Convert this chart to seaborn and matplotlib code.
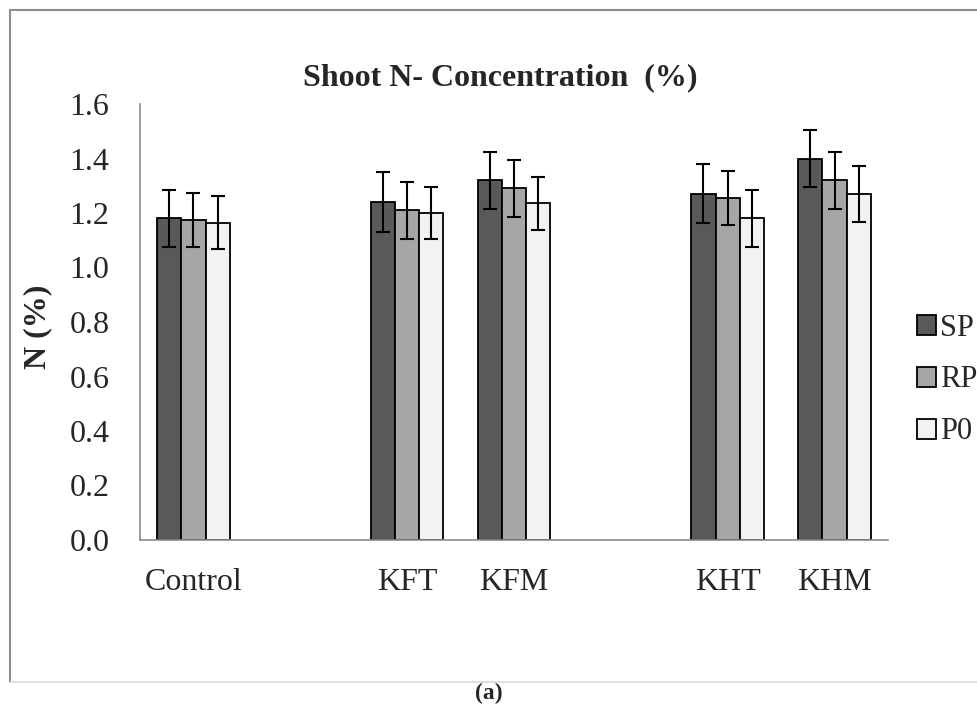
import matplotlib
matplotlib.use("Agg")
import matplotlib.pyplot as plt
from matplotlib.lines import Line2D
import seaborn as sns
import pandas as pd

# ---- data ----
categories = ["Control", "KFT", "KFM", "KHT", "KHM"]
slot_order = ["Control", " ", "KFT", "KFM", "  ", "KHT", "KHM"]
series = ["SP", "RP", "P0"]
sp_vals = [1.18, 1.24, 1.32, 1.27, 1.40]
rp_vals = [1.175, 1.21, 1.29, 1.255, 1.32]
p0_vals = [1.165, 1.20, 1.235, 1.18, 1.27]
sp_err = [0.105, 0.11, 0.105, 0.108, 0.103]
rp_err = [0.10, 0.105, 0.103, 0.10, 0.104]
p0_err = [0.098, 0.096, 0.096, 0.103, 0.102]
yticks = [0.0, 0.2, 0.4, 0.6, 0.8, 1.0, 1.2, 1.4, 1.6]

colors = {"SP": "#595959", "RP": "#a6a6a6", "P0": "#f2f2f2"}

rows = []
errs = {}
for s, vals, ers in [("SP", sp_vals, sp_err), ("RP", rp_vals, rp_err), ("P0", p0_vals, p0_err)]:
    for c, v, e in zip(categories, vals, ers):
        rows.append({"Treatment": c, "Series": s, "N": v})
        errs[(c, s)] = e
df = pd.DataFrame(rows)

sns.set_theme(style="white")
plt.rcParams["font.family"] = ["Liberation Serif", "DejaVu Serif"]

fig = plt.figure(figsize=(9.78, 7.06), dpi=100)
ax = fig.add_axes([140/978, 1-540/706, (888-140)/978, (540-104)/706])

sns.barplot(data=df, x="Treatment", y="N", hue="Series", order=slot_order,
            hue_order=series, palette=colors, width=0.68, edgecolor="black",
            linewidth=1.3, errorbar=None, ax=ax, saturation=1)

# error bars from drawn bars
for cont, s in zip(ax.containers, series):
    for bar in cont:
        xc = bar.get_x() + bar.get_width() / 2
        cat = slot_order[int(round(xc))]
        if cat not in categories:
            continue
        ax.errorbar(xc, bar.get_height(), yerr=errs[(cat, s)], fmt="none",
                    ecolor="black", elinewidth=1.5, capsize=5, capthick=1.5, zorder=5)

ax.set_ylim(0, 1.6)
ax.set_xlim(-0.5, len(slot_order) - 0.5)
ax.set_yticks(yticks)
ax.set_yticklabels([f"{t:.1f}" for t in yticks], fontsize=23)
ax.set_xticks(range(len(slot_order)))
ax.set_xticklabels([c if c.strip() else "" for c in slot_order], fontsize=23)
ax.tick_params(axis="both", length=0)
ax.tick_params(axis="x", pad=20)
ax.tick_params(axis="y", pad=22)
ax.set_xlabel("")
ax.set_ylabel("N (%)", fontsize=23, fontweight="bold")
ax.yaxis.set_label_coords(-0.118, 0.49)
for sp in ["top", "right"]:
    ax.spines[sp].set_visible(False)
for sp in ["left", "bottom"]:
    ax.spines[sp].set_color("#8c8c8c")
    ax.spines[sp].set_linewidth(1.2)

leg = ax.legend(loc="center left", bbox_to_anchor=(905/978, 1-380/706),
                bbox_transform=fig.transFigure, frameon=False, fontsize=22,
                handlelength=0.62, handleheight=0.62, handletextpad=0.12,
                labelspacing=0.75, borderaxespad=0)

fig.text(500/978, 1-78/706, "Shoot N- Concentration  (%)", ha="center", va="center",
         fontsize=23, fontweight="bold")
fig.text(489/978, 1-693/706, "(a)", ha="center", va="center", fontsize=17, fontweight="bold")

# outer frame
fig.add_artist(Line2D([10/978, 10/978], [1-10/706, 1-682/706], transform=fig.transFigure,
                      color="#8c8c8c", lw=1.5))
fig.add_artist(Line2D([10/978, 1.0], [1-10/706, 1-10/706], transform=fig.transFigure,
                      color="#8c8c8c", lw=1.5))
fig.add_artist(Line2D([10/978, 1.0], [1-682/706, 1-682/706], transform=fig.transFigure,
                      color="#d9d9d9", lw=1.2))

fig.savefig("out.png", dpi=100)
